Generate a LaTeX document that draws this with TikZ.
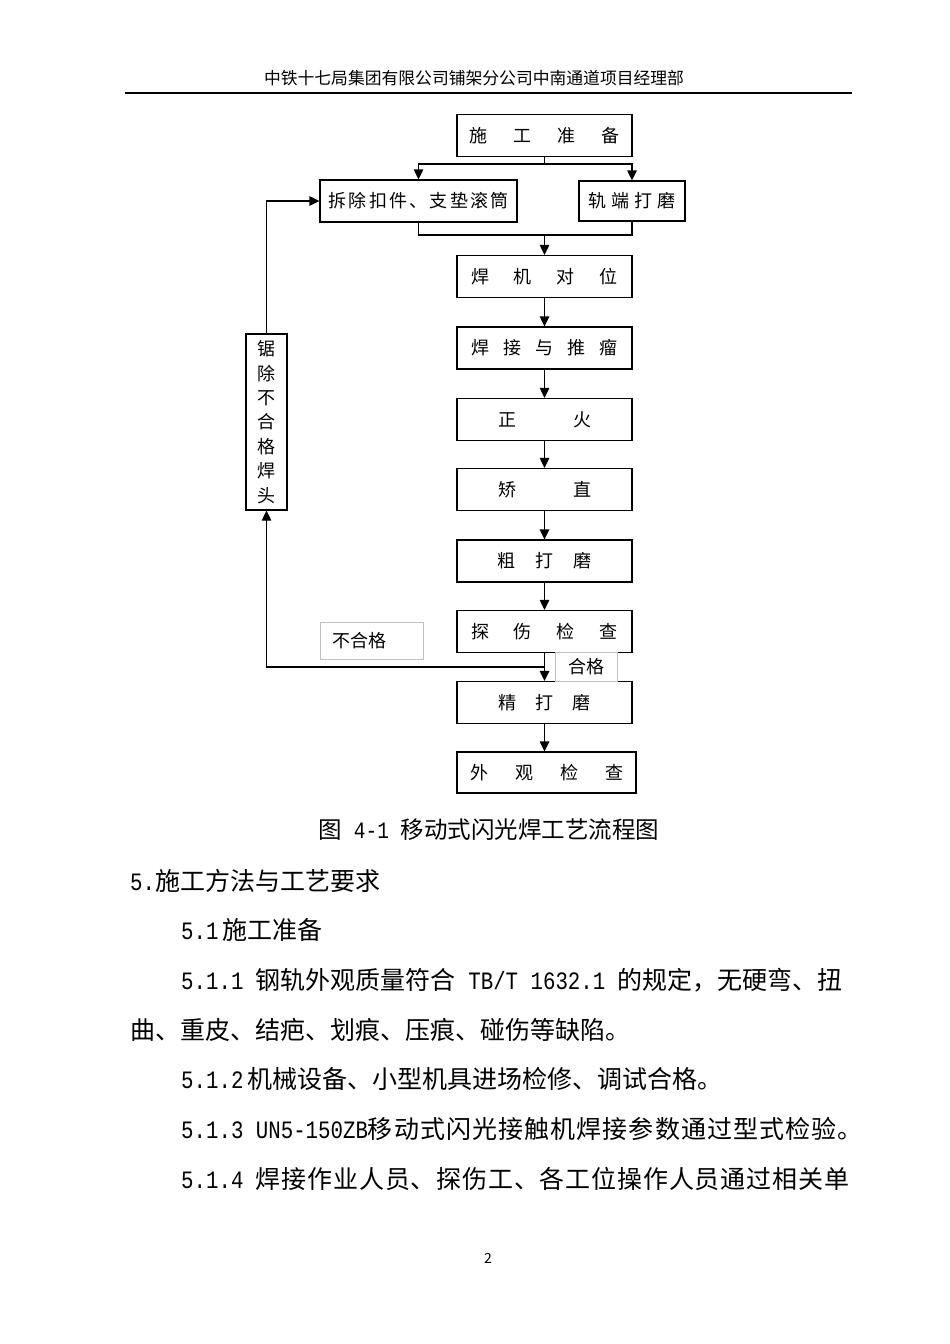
\documentclass[tikz,border=0pt]{standalone}
\usepackage{fontspec}
\setmainfont{Noto Sans CJK SC}
\newfontfamily\latin[FakeStretch=0.83]{Liberation Mono}
\usetikzlibrary{arrows.meta,positioning,shadows}
\newcommand{\spread}[2]{\makebox[#1][s]{#2}}

\tikzset{
  stepbox/.style={draw, fill=white, line width=1.2pt, minimum height=42pt, minimum width=175pt,
    inner sep=0pt, font=\fontsize{18}{22}\selectfont},
  notebox/.style={draw=black!25, line width=0.8pt, inner sep=0pt,
    font=\fontsize{18}{22}\selectfont},
  conn/.style={line width=1.2pt},
  arr/.style={conn, -{Triangle[length=10pt,width=9.5pt]}},
  bodytext/.style={anchor=west, inner sep=0pt, font=\fontsize{25}{30}\selectfont},
}

\begin{document}
\begin{tikzpicture}[x=1pt,y=-1pt]
  % page
  \useasboundingbox[fill=white] (0,0) rectangle (950,1344);

  % header
  \node[inner sep=0pt, font=\fontsize{16.8}{20}\selectfont] (header) at (474,78)
    {中铁十七局集团有限公司铺架分公司中南通道项目经理部};
  \draw[line width=1.6pt] (125,93) -- (852,93);

  % steps
  \node[stepbox] (prep) at (544.5,135.5) {\spread{150pt}{施\hfill 工\hfill 准\hfill 备}};
  \node[stepbox, minimum width=197pt] (remove) at (418.5,201)
    {\spread{180pt}{拆\hfill 除\hfill 扣\hfill 件\hfill 、\hfill 支\hfill 垫\hfill 滚\hfill 筒}};
  \node[stepbox, minimum width=106pt, minimum height=40pt,
    drop shadow={shadow xshift=1.3pt, shadow yshift=-1.3pt, fill=black!70, opacity=1}]
    (grind) at (632,201) {\spread{88pt}{轨\hfill 端\hfill 打\hfill 磨}};
  \node[stepbox] (align) at (544.5,276.5) {\spread{147pt}{焊\hfill 机\hfill 对\hfill 位}};
  \node[stepbox] (weld) at (544.5,348) {\spread{147pt}{焊\hfill 接\hfill 与\hfill 推\hfill 瘤}};
  \node[stepbox] (heat) at (544.5,419.5) {\spread{93pt}{正\hfill 火}};
  \node[stepbox] (straight) at (544.5,489.5) {\spread{93pt}{矫\hfill 直}};
  \node[stepbox] (rough) at (544.5,561) {\spread{95pt}{粗\hfill 打\hfill 磨}};
  \node[stepbox] (check) at (544.5,631.5) {\spread{147pt}{探\hfill 伤\hfill 检\hfill 查}};
  \node[stepbox] (fine) at (544.5,702.5) {\spread{93pt}{精\hfill 打\hfill 磨}};
  \node[stepbox, minimum width=179pt, minimum height=41pt] (look) at (546.5,772.5)
    {\spread{153pt}{外\hfill 观\hfill 检\hfill 查}};

  % cut out bad weld
  \node[draw, line width=1.2pt, minimum width=41pt, minimum height=176pt, inner sep=0pt,
    align=center, font=\fontsize{18}{24.4}\selectfont] (cut) at (266.5,422)
    {锯\\除\\不\\合\\格\\焊\\头};

  % notes
  \node[notebox, minimum width=103pt, minimum height=37pt] (fail) at (371.5,640.5)
    {\makebox[78pt][l]{不合格}};
  \node[notebox, minimum width=62pt, minimum height=29pt] (pass) at (586,666.5) {合格};

  % split and join
  \coordinate (split) at (544.5,164);
  \draw[conn] (prep) -- (split);
  \draw[arr] (split) -| (remove);
  \draw[arr] (split) -| (grind);
  \coordinate (join) at (544.5,235);
  \draw[conn] (remove.south) |- (join) -| (grind.south);
  \draw[arr] (join) -- (align);

  % main line
  \foreach \a/\b in {align/weld, weld/heat, heat/straight, straight/rough,
                     rough/check, check/fine, fine/look}
    \draw[arr] (\a.south) -- (\a.south |- \b.north);

  % feedback
  \coordinate (back) at (544.5,667);
  \draw[arr] (back) -| (cut);
  \draw[arr] (cut) |- (remove);

  % caption and text
  \node[inner sep=0pt, font=\fontsize{23.5}{27}\selectfont] (caption) at (489,830)
    {图{\latin{} 4-1 }移动式闪光焊工艺流程图};
  \node[bodytext] (h5) at (130,881) {{\latin 5.}施工方法与工艺要求};
  \node[bodytext] (h51) at (181,930) {{\latin 5.1}\kern4pt 施工准备};
  \node[bodytext] (p511) at (181,980)
    {{\latin 5.1.1 }钢轨外观质量符合{\latin{} TB/T 1632.1 }的规定，无硬弯、扭};
  \node[bodytext] (p511b) at (130,1030) {曲、重皮、结疤、划痕、压痕、碰伤等缺陷。};
  \node[bodytext] (p512) at (181,1079) {{\latin 5.1.2}\kern4pt 机械设备、小型机具进场检修、调试合格。};
  \node[bodytext] (p513) at (181,1129)
    {{\latin 5.1.3 UN5-150ZB}\addfontfeature{LetterSpace=4.4}移动式闪光接触机焊接参数通过型式检验。};
  \node[bodytext] (p514) at (181,1179)
    {{\latin 5.1.4 }\addfontfeature{LetterSpace=3.3}焊接作业人员、探伤工、各工位操作人员通过相关单};
  \node[inner sep=0pt, font=\fontsize{14}{16}\selectfont] (pageno) at (488,1258) {2};
\end{tikzpicture}
\end{document}
